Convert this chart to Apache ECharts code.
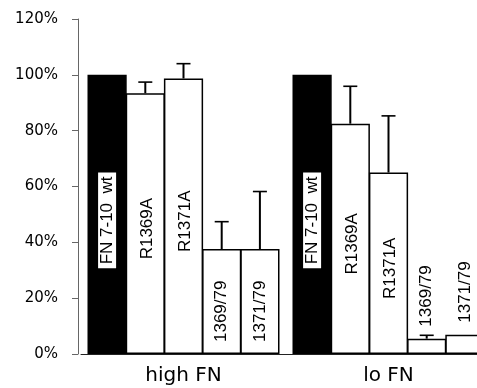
<!DOCTYPE html>
<html><head><meta charset="utf-8">
<script src="https://cdn.jsdelivr.net/npm/echarts@6/dist/echarts.min.js"></script>
<style>html,body{margin:0;padding:0;background:#fff}#c{width:477px;height:388px}</style>
</head><body><div id="c"></div>
<script>
// ---- data ----
const groups = ['high FN', 'lo FN'];
const constructs = ['FN 7-10  wt', 'R1369A', 'R1371A', '1369/79', '1371/79'];
const valuesWt = [100, 100];
const valuesR1369A = [93.4, 82.5];
const valuesR1371A = [98.7, 65];
const values1369_79 = [37.6, 5.5];
const values1371_79 = [37.6, 6.9];
const errWt = [0, 0];
const errR1369A = [4, 13.4];
const errR1371A = [5.3, 20.3];
const err1369_79 = [9.8, 1.2];
const err1371_79 = [20.6, 0];
const yMin = 0, yMax = 120, yStep = 20;

const seriesValues = [valuesWt, valuesR1369A, valuesR1371A, values1369_79, values1371_79];
const seriesErrors = [errWt, errR1369A, errR1371A, err1369_79, err1371_79];

// ---- layout / style ----
const CAT_GAP = 0.0634;   // fraction of category band
const BAR_GAP = -0.0255;  // fraction of bar width (slight overlap so edges coincide)
const labelFont = 'Liberation Sans';

function labelFor(si, v) {
  const base = {
    show: true, rotate: 90, color: '#000', fontFamily: labelFont, fontSize: 17,
    formatter: constructs[si]
  };
  if (si === 0) {
    return Object.assign(base, {position: 'inside', align: 'center', verticalAlign: 'middle', offset: [-6, 0],
      backgroundColor: '#fff', borderColor: '#000', borderWidth: 1, padding: [1, 4, 0, 4]});
  }
  if (v >= 60) return Object.assign(base, {position: 'inside', align: 'center', verticalAlign: 'middle', offset: [-5, 2]});
  if (v >= 20) return Object.assign(base, {position: 'insideBottom', distance: 12, align: 'left', verticalAlign: 'middle'});
  return Object.assign(base, {position: 'top', distance: 12, align: 'left', verticalAlign: 'middle'});
}

const barSeries = seriesValues.map((vals, si) => ({
  type: 'bar',
  name: constructs[si],
  barGap: (BAR_GAP * 100) + '%',
  barCategoryGap: (CAT_GAP * 100) + '%',
  itemStyle: {color: si === 0 ? '#000' : '#fff', borderColor: '#000', borderWidth: 1.5},
  data: vals.map(v => ({value: v, label: labelFor(si, v)})),
  z: 2
}));

const errData = [];
seriesErrors.forEach((errs, si) => errs.forEach((e, ci) => {
  errData.push([ci, si, seriesValues[si][ci], e]);
}));

const errSeries = {
  type: 'custom',
  data: errData,
  encode: {x: 0, y: 2},
  z: 5,
  renderItem: function (params, api) {
    const cat = api.value(0), si = api.value(1), v = api.value(2), e = api.value(3);
    if (!e) return;
    const n = constructs.length;
    const band = api.size([1, 0])[0];
    const bw = band * (1 - CAT_GAP) / (n + (n - 1) * BAR_GAP);
    const pitch = bw * (1 + BAR_GAP);
    const base = api.coord([cat, v]);
    const top = api.coord([cat, v + e]);
    const x = base[0] + (si - (n - 1) / 2) * pitch;
    return {
      type: 'group',
      children: [
        {type: 'line', shape: {x1: x, y1: base[1], x2: x, y2: top[1]}, style: {stroke: '#000', lineWidth: 2}},
        {type: 'line', shape: {x1: x - 7, y1: top[1], x2: x + 7, y2: top[1]}, style: {stroke: '#000', lineWidth: 1.6}}
      ]
    };
  }
};

const chart = echarts.init(document.getElementById('c'), null, {renderer: 'canvas'});
chart.setOption({
  animation: false,
  backgroundColor: '#fff',
  grid: {left: 81, top: 19, right: -14, bottom: 34, containLabel: false, outerBoundsMode: 'none'},
  xAxis: {
    type: 'category',
    data: groups,
    axisLine: {show: true, lineStyle: {color: '#222', width: 1}},
    axisTick: {show: false},
    axisLabel: {color: '#000', fontFamily: 'DejaVu Sans', fontSize: 20, margin: 12},
    splitLine: {show: false}
  },
  yAxis: {
    type: 'value',
    min: yMin, max: yMax, interval: yStep,
    offset: 3,
    axisLine: {show: true, lineStyle: {color: '#666', width: 1}},
    axisTick: {show: true, inside: false, length: 6, lineStyle: {color: '#666'}},
    axisLabel: {color: '#000', fontFamily: 'DejaVu Sans', fontSize: 15, margin: 20, formatter: '{value}%'},
    splitLine: {show: false}
  },
  series: barSeries.concat([errSeries])
});
</script>
</body></html>
